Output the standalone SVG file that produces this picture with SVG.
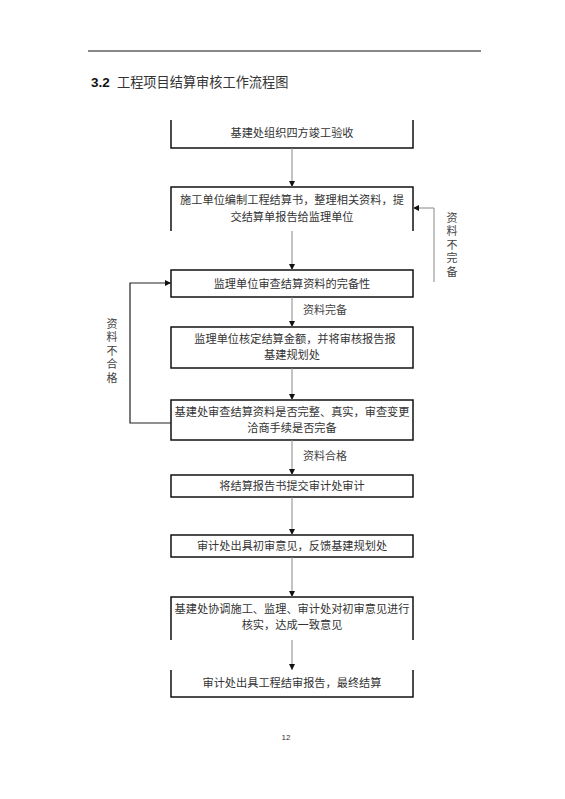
<svg xmlns="http://www.w3.org/2000/svg" width="565" height="799" viewBox="0 0 565 799">
<style>
.t{font-family:"Noto Sans CJK SC","Liberation Sans",sans-serif;font-size:11.2px;fill:#333;text-anchor:middle}
.b{fill:none;stroke:#111;stroke-width:1.5}
.c{fill:none;stroke:#888;stroke-width:1}
.cl{fill:none;stroke:#222;stroke-width:1.2}
.lb{font-family:"Noto Sans CJK SC","Liberation Sans",sans-serif;font-size:11px;fill:#444;text-anchor:middle}
.v{font-family:"Noto Sans CJK SC","Liberation Sans",sans-serif;font-size:11px;fill:#444;writing-mode:vertical-rl;letter-spacing:2.5px}
</style>
<defs>
<marker id="ah" viewBox="0 0 10 10" refX="10" refY="5" markerWidth="6" markerHeight="6" orient="auto" markerUnits="userSpaceOnUse">
<path d="M0,0 L10,5 L0,10 z" fill="#111"/>
</marker>
</defs>
<rect width="565" height="799" fill="#fff"/>
<line x1="88" y1="51" x2="481" y2="51" stroke="#111" stroke-width="1"/>
<text x="91" y="87" font-family="Liberation Sans,sans-serif" font-size="13.5" font-weight="bold" fill="#111">3.2</text>
<text x="117" y="87" font-family="Noto Sans CJK SC,sans-serif" font-size="13.2" fill="#333">工程项目结算审核工作流程图</text>

<g id="n1"><path class="b" d="M171,120 V148 H413 V120"/><text class="t" x="292" y="137">基建处组织四方竣工验收</text></g>
<g id="n2"><path class="b" d="M171,231 V187 H413 V231"/><text class="t" x="292" y="204">施工单位编制工程结算书，整理相关资料，提</text><text class="t" x="292" y="221">交结算单报告给监理单位</text></g>
<g id="n3"><rect class="b" x="171" y="270" width="242" height="27"/><text class="t" x="292" y="288">监理单位审查结算资料的完备性</text></g>
<g id="n4"><rect class="b" x="171" y="327" width="242" height="41"/><text class="t" x="295" y="343">监理单位核定结算金额，并将审核报告报</text><text class="t" x="292" y="359">基建规划处</text></g>
<g id="n5"><rect class="b" x="171" y="400" width="242" height="40"/><text class="t" x="292" y="416">基建处审查结算资料是否完整、真实，审查变更</text><text class="t" x="292" y="432">洽商手续是否完备</text></g>
<g id="n6"><rect class="b" x="171" y="475" width="242" height="22"/><text class="t" x="292" y="490">将结算报告书提交审计处审计</text></g>
<g id="n7"><rect class="b" x="171" y="535" width="242" height="22"/><text class="t" x="292" y="550">审计处出具初审意见，反馈基建规划处</text></g>
<g id="n8"><path class="b" d="M171,640 V597 H413 V640"/><text class="t" x="292" y="613">基建处协调施工、监理、审计处对初审意见进行</text><text class="t" x="292" y="629">核实，达成一致意见</text></g>
<g id="n9"><path class="b" d="M171,670 V697 H413 V670"/><text class="t" x="292" y="687">审计处出具工程结审报告，最终结算</text></g>

<g id="connectors">
<line class="c" x1="292" y1="148" x2="292" y2="187" marker-end="url(#ah)"/>
<line class="c" x1="292" y1="231" x2="292" y2="270" marker-end="url(#ah)"/>
<line class="c" x1="292" y1="297" x2="292" y2="327" marker-end="url(#ah)"/>
<line class="c" x1="292" y1="368" x2="292" y2="400" marker-end="url(#ah)"/>
<line class="c" x1="292" y1="440" x2="292" y2="475" marker-end="url(#ah)"/>
<line class="c" x1="292" y1="497" x2="292" y2="535" marker-end="url(#ah)"/>
<line class="c" x1="292" y1="557" x2="292" y2="597" marker-end="url(#ah)"/>
<line class="c" x1="292" y1="640" x2="292" y2="670" marker-end="url(#ah)"/>
<path class="c" d="M434,282 V208 H413" marker-end="url(#ah)"/>
<path class="cl" d="M171,423 H130 V283 H171" marker-end="url(#ah)"/>
<text class="lb" x="325" y="314">资料完备</text>
<text class="lb" x="325" y="460">资料合格</text>
<text class="v" x="452" y="212">资料不完备</text>
<text class="v" x="112" y="318">资料不合格</text>
</g>
<text x="286" y="740" font-family="Liberation Sans,sans-serif" font-size="8" fill="#333" text-anchor="middle">12</text>
</svg>
